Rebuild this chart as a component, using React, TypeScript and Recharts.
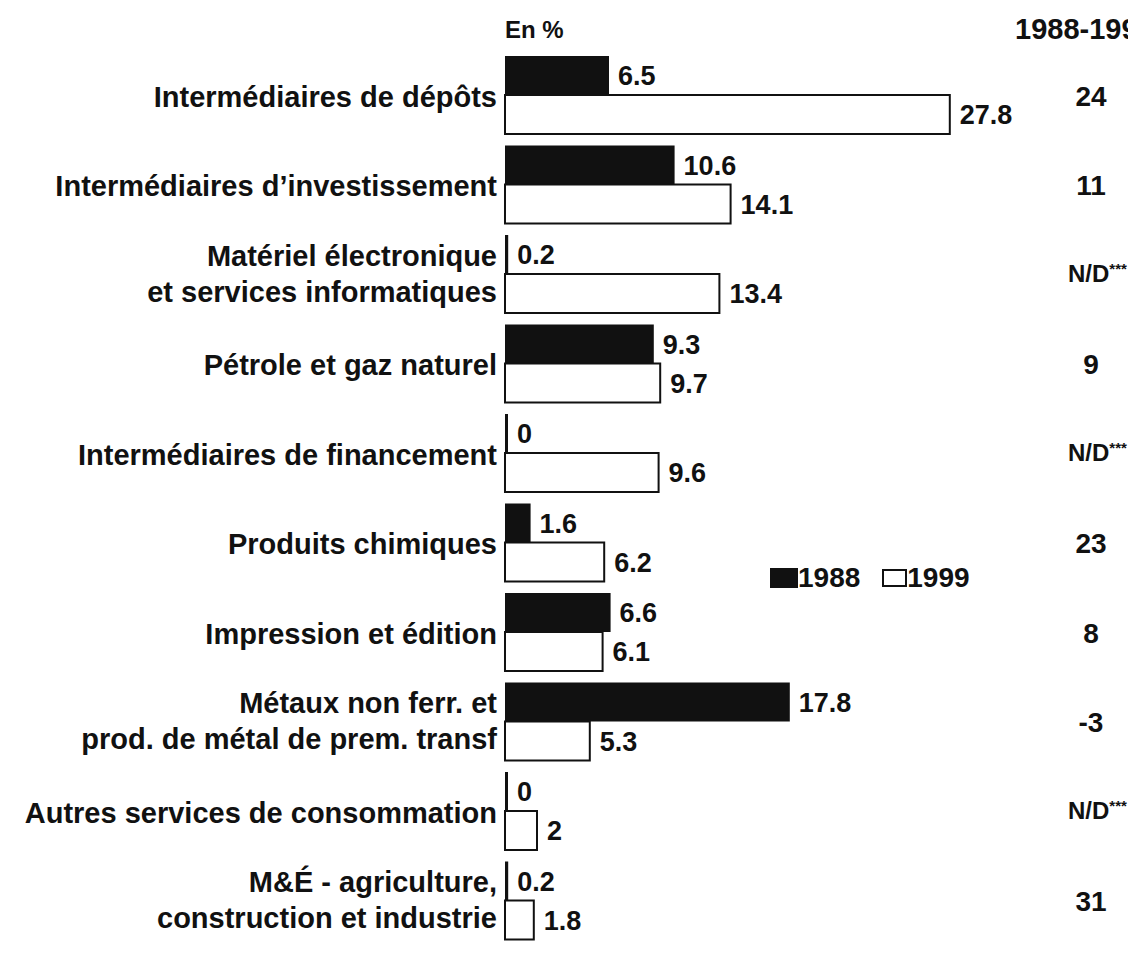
import React from 'react'
import { BarChart, Bar, XAxis, YAxis, LabelList } from 'recharts'

const categories = [
  'Intermédiaires de dépôts',
  'Intermédiaires d’investissement',
  'Matériel électronique\net services informatiques',
  'Pétrole et gaz naturel',
  'Intermédiaires de financement',
  'Produits chimiques',
  'Impression et édition',
  'Métaux non ferr. et\nprod. de métal de prem. transf',
  'Autres services de consommation',
  'M&É - agriculture,\nconstruction et industrie'
]

const values1988 = [6.5, 10.6, 0.2, 9.3, 0, 1.6, 6.6, 17.8, 0, 0.2]
const values1999 = [27.8, 14.1, 13.4, 9.7, 9.6, 6.2, 6.1, 5.3, 2, 1.8]
const growth = ['24', '11', 'N/D***', '9', 'N/D***', '23', '8', '-3', 'N/D***', '31']

const data = categories.map((name, i) => ({
  name,
  y1988: values1988[i],
  y1999: values1999[i]
}))

const FONT = '"Liberation Sans", Arial, sans-serif'
const INK = '#111'

function CategoryTick(props: any) {
  const { x, y, payload, index } = props
  const lines = String(payload.value).split('\n')
  const g = growth[index]
  const isNd = g.startsWith('N')
  return (
    <g>
      <text
        x={x}
        y={y}
        textAnchor="end"
        fontFamily={FONT}
        fontWeight="bold"
        fontSize={29}
        fill={INK}
      >
        {lines.map((l, i) => (
          <tspan
            key={i}
            x={x}
            dy={i === 0 ? (lines.length === 1 ? 12 : -8) : 36}
          >
            {l}
          </tspan>
        ))}
      </text>
      {isNd ? (
        <text
          x={1068}
          y={y + 8}
          fontFamily={FONT}
          fontWeight="bold"
          fontSize={24}
          fill={INK}
        >
          N/D
          <tspan fontSize={15} dy={-8}>***</tspan>
        </text>
      ) : (
        <text
          x={1091}
          y={y + 11}
          textAnchor="middle"
          fontFamily={FONT}
          fontWeight="bold"
          fontSize={28}
          fill={INK}
        >
          {g}
        </text>
      )}
    </g>
  )
}

function LegendBox() {
  return (
    <div
      style={{
        position: 'absolute',
        left: 770,
        top: 562,
        display: 'flex',
        alignItems: 'center',
        fontFamily: FONT,
        fontWeight: 'bold',
        fontSize: 28,
        color: INK,
        whiteSpace: 'nowrap'
      }}
    >
      <span style={{ width: 28, height: 20, background: INK }} />
      <span style={{ marginRight: 22 }}>1988</span>
      <span
        style={{
          width: 21,
          height: 14,
          border: `2px solid ${INK}`,
          background: '#fff'
        }}
      />
      <span>1999</span>
    </div>
  )
}

export default function App() {
  return (
    <div
      style={{
        position: 'absolute',
        left: 0,
        top: 0,
        width: 1128,
        height: 960,
        overflow: 'hidden',
        background: '#fff'
      }}
    >
      <div
        style={{
          position: 'absolute',
          left: 505,
          top: 16,
          fontFamily: FONT,
          fontWeight: 'bold',
          fontSize: 24,
          color: INK
        }}
      >
        En %
      </div>
      <div
        style={{
          position: 'absolute',
          left: 1015,
          top: 13,
          fontFamily: FONT,
          fontWeight: 'bold',
          fontSize: 29,
          color: INK,
          whiteSpace: 'nowrap'
        }}
      >
        1988-1999
      </div>
      <BarChart
        width={1128}
        height={960}
        data={data}
        layout="vertical"
        margin={{ top: 50, right: 15, bottom: 15, left: 0 }}
        barGap={0}
      >
        <XAxis type="number" domain={[0, 38]} hide />
        <YAxis
          type="category"
          dataKey="name"
          width={505}
          axisLine={false}
          tickLine={false}
          tickSize={0}
          tickMargin={8}
          interval={0}
          tick={(p: any) => <CategoryTick {...p} />}
        />
        <Bar
          dataKey="y1988"
          fill={INK}
          barSize={39}
          minPointSize={3}
          isAnimationActive={false}
        >
          <LabelList
            dataKey="y1988"
            position="right"
            offset={9}
            fontFamily={FONT}
            fontWeight="bold"
            fontSize={27}
            fill={INK}
          />
        </Bar>
        <Bar
          dataKey="y1999"
          fill="#fff"
          stroke={INK}
          strokeWidth={2}
          barSize={39}
          isAnimationActive={false}
        >
          <LabelList
            dataKey="y1999"
            position="right"
            offset={10}
            fontFamily={FONT}
            fontWeight="bold"
            fontSize={27}
            fill={INK}
          />
        </Bar>
      </BarChart>
      <LegendBox />
    </div>
  )
}
